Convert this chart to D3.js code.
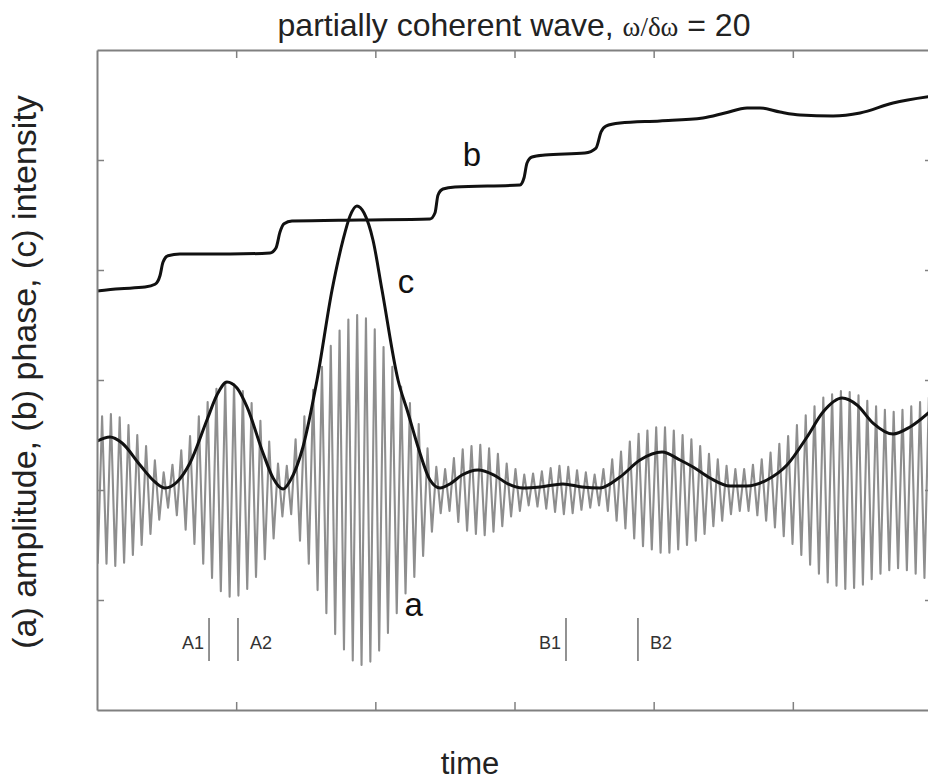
<!DOCTYPE html>
<html><head><meta charset="utf-8">
<script src="https://cdn.jsdelivr.net/npm/d3@7"></script>
<style>body{margin:0;background:#fff}svg{display:block}</style>
</head><body>
<svg id="chart" width="928" height="784"></svg>
<script>
// ---------- data ----------
const xTicks = [1, 2, 3, 4, 5];
const yTicks = [-1, 0, 1, 2, 3];

// intensity (c): time, value
const intensityTime = [0,0.093,0.18,0.309,0.417,0.489,0.575,0.668,0.79,0.862,0.934,1.006,1.078,1.193,1.265,1.337,1.387,1.48,1.581,1.689,1.768,1.818,1.868,1.919,1.983,2.048,2.163,2.235,2.307,2.393,2.465,2.536,2.623,2.738,2.853,2.953,3.061,3.183,3.348,3.485,3.614,3.758,3.902,4.06,4.189,4.283,4.405,4.549,4.671,4.814,4.958,5.102,5.217,5.354,5.461,5.576,5.72,5.842,6.0];
const intensityValue = [0.445,0.482,0.427,0.227,0.073,0.018,0.073,0.245,0.636,0.864,0.982,0.927,0.755,0.336,0.109,0.009,0.082,0.391,1.0,1.818,2.273,2.491,2.582,2.518,2.273,1.818,1.0,0.7,0.391,0.091,0.018,0.055,0.136,0.182,0.136,0.055,0.018,0.027,0.055,0.027,0.018,0.118,0.273,0.345,0.273,0.209,0.109,0.036,0.036,0.091,0.227,0.482,0.709,0.836,0.773,0.609,0.509,0.573,0.73];

// phase (b): time, value
const phaseTime = [0,0.165,0.345,0.417,0.453,0.474,0.51,0.596,0.956,1.243,1.286,1.315,1.344,1.401,1.89,2.393,2.429,2.45,2.486,2.572,3.039,3.068,3.09,3.126,3.219,3.506,3.586,3.622,3.657,3.758,4.045,4.354,4.512,4.671,4.764,4.908,5.052,5.289,5.483,5.72,6.0];
const phaseValue = [1.81,1.83,1.845,1.87,1.95,2.07,2.13,2.145,2.145,2.155,2.2,2.345,2.42,2.445,2.455,2.464,2.52,2.68,2.736,2.755,2.773,2.836,2.973,3.027,3.045,3.064,3.109,3.255,3.309,3.336,3.355,3.382,3.427,3.473,3.473,3.436,3.409,3.4,3.427,3.518,3.58];

// amplitude (a): carrier crest heights, one per cycle (top at +v, trough at -v half a cycle later)
const carrierStart = 0.0366;   // time of first crest
const carrierPeriod = 0.0632;  // time per cycle
const carrierAmp = [0.67,0.69,0.66,0.59,0.50,0.40,0.27,0.16,0.23,0.36,0.49,0.67,0.80,0.92,0.97,0.96,0.90,0.79,0.63,0.44,0.24,0.22,0.46,0.67,0.91,1.12,1.31,1.45,1.55,1.59,1.56,1.46,1.30,1.12,0.94,0.79,0.60,0.38,0.21,0.19,0.29,0.37,0.40,0.41,0.38,0.33,0.24,0.19,0.14,0.15,0.17,0.20,0.22,0.21,0.18,0.16,0.14,0.19,0.28,0.35,0.44,0.51,0.54,0.57,0.57,0.54,0.50,0.46,0.40,0.33,0.28,0.22,0.19,0.19,0.23,0.28,0.34,0.42,0.49,0.59,0.68,0.76,0.84,0.87,0.90,0.89,0.86,0.81,0.76,0.73,0.71,0.73,0.76,0.80,0.84,0.86];

// interval markers
const markerNames = ["A1", "A2", "B1", "B2"];
const markerTime = [0.805, 1.013, 3.37, 3.887];
const markerSide = ["left", "right", "left", "right"];

// curve labels
const curveLabels = ["a", "b", "c"];
const curveLabelTime = [2.275, 2.695, 2.22];
const curveLabelValue = [-1.145, 2.945, 1.79];

// ---------- drawing ----------
const svg = d3.select("#chart");
const x = d3.scaleLinear().domain([0, 6]).range([97, 932]);
const y = d3.scaleLinear().domain([-2, 4]).range([710, 50]);

const defs = svg.append("defs");
defs.append("clipPath").attr("id", "clip").append("rect")
  .attr("x", 97).attr("y", 50).attr("width", 835).attr("height", 660);

const plot = svg.append("g").attr("clip-path", "url(#clip)");

// amplitude points
const ampPts = [];
ampPts.push([carrierStart - carrierPeriod / 2, -carrierAmp[0]]);
carrierAmp.forEach((v, k) => {
  const t = carrierStart + k * carrierPeriod;
  ampPts.push([t, v]);
  ampPts.push([t + carrierPeriod / 2, -v]);
});
plot.append("path")
  .attr("d", d3.line().x(d => x(d[0])).y(d => y(d[1]))(ampPts))
  .attr("fill", "none").attr("stroke", "#8e8e8e").attr("stroke-width", 2.1)
  .attr("stroke-linejoin", "round");

const smooth = d3.line().x(d => x(d[0])).y(d => y(d[1])).curve(d3.curveMonotoneX);
plot.append("path")
  .attr("d", smooth(intensityTime.map((t, i) => [t, intensityValue[i]])))
  .attr("fill", "none").attr("stroke", "#111").attr("stroke-width", 3);
plot.append("path")
  .attr("d", smooth(phaseTime.map((t, i) => [t, phaseValue[i]])))
  .attr("fill", "none").attr("stroke", "#111").attr("stroke-width", 3);

// markers
markerTime.forEach((t, i) => {
  svg.append("line")
    .attr("x1", x(t)).attr("x2", x(t))
    .attr("y1", y(-1.164)).attr("y2", y(-1.555))
    .attr("stroke", "#777").attr("stroke-width", 1.6);
  svg.append("text")
    .attr("x", markerSide[i] === "left" ? x(t) - 5 : x(t) + 12)
    .attr("y", y(-1.445))
    .attr("text-anchor", markerSide[i] === "left" ? "end" : "start")
    .attr("font-family", "Liberation Sans, Arial, sans-serif")
    .attr("font-size", 18).attr("fill", "#333")
    .text(markerNames[i]);
});

// curve labels
curveLabels.forEach((s, i) => {
  svg.append("text")
    .attr("x", x(curveLabelTime[i])).attr("y", y(curveLabelValue[i]))
    .attr("text-anchor", "middle")
    .attr("font-family", "Liberation Sans, Arial, sans-serif")
    .attr("font-size", 33).attr("fill", "#111")
    .text(s);
});

// axes (ticks inward, no labels)
const axStyle = g => {
  g.selectAll("text").remove();
  g.select(".domain").attr("stroke", "#808080").attr("stroke-width", 2);
  g.selectAll(".tick line").attr("stroke", "#808080").attr("stroke-width", 1.5);
};
svg.append("g").attr("transform", "translate(0,710)")
  .call(d3.axisBottom(x).tickValues(xTicks).tickSize(-8).tickSizeOuter(0)).call(axStyle);
svg.append("g").attr("transform", "translate(0,50)")
  .call(d3.axisTop(x).tickValues(xTicks).tickSize(-8).tickSizeOuter(0)).call(axStyle);
svg.append("g").attr("transform", "translate(97,0)")
  .call(d3.axisLeft(y).tickValues(yTicks).tickSize(-7).tickSizeOuter(0)).call(axStyle);
svg.append("g").attr("transform", "translate(932,0)")
  .call(d3.axisRight(y).tickValues(yTicks).tickSize(-7).tickSizeOuter(0)).call(axStyle);

// title
const title = svg.append("text")
  .attr("x", 514).attr("y", 36).attr("text-anchor", "middle")
  .attr("font-family", "Liberation Sans, Arial, sans-serif")
  .attr("font-size", 32).attr("fill", "#222");
title.append("tspan").text("partially coherent wave, ");
title.append("tspan").attr("font-family", "Liberation Serif, Times New Roman, serif").attr("font-size", 27).text("ω/δω");
title.append("tspan").text(" = 20");

// axis titles
svg.append("text")
  .attr("x", 470).attr("y", 774).attr("text-anchor", "middle")
  .attr("font-family", "Liberation Sans, Arial, sans-serif")
  .attr("font-size", 31).attr("fill", "#222").text("time");
svg.append("text")
  .attr("transform", "translate(36,372) rotate(-90)")
  .attr("text-anchor", "middle")
  .attr("font-family", "Liberation Sans, Arial, sans-serif")
  .attr("font-size", 34).attr("fill", "#222")
  .text("(a) amplitude, (b) phase, (c) intensity");
</script>
</body></html>
